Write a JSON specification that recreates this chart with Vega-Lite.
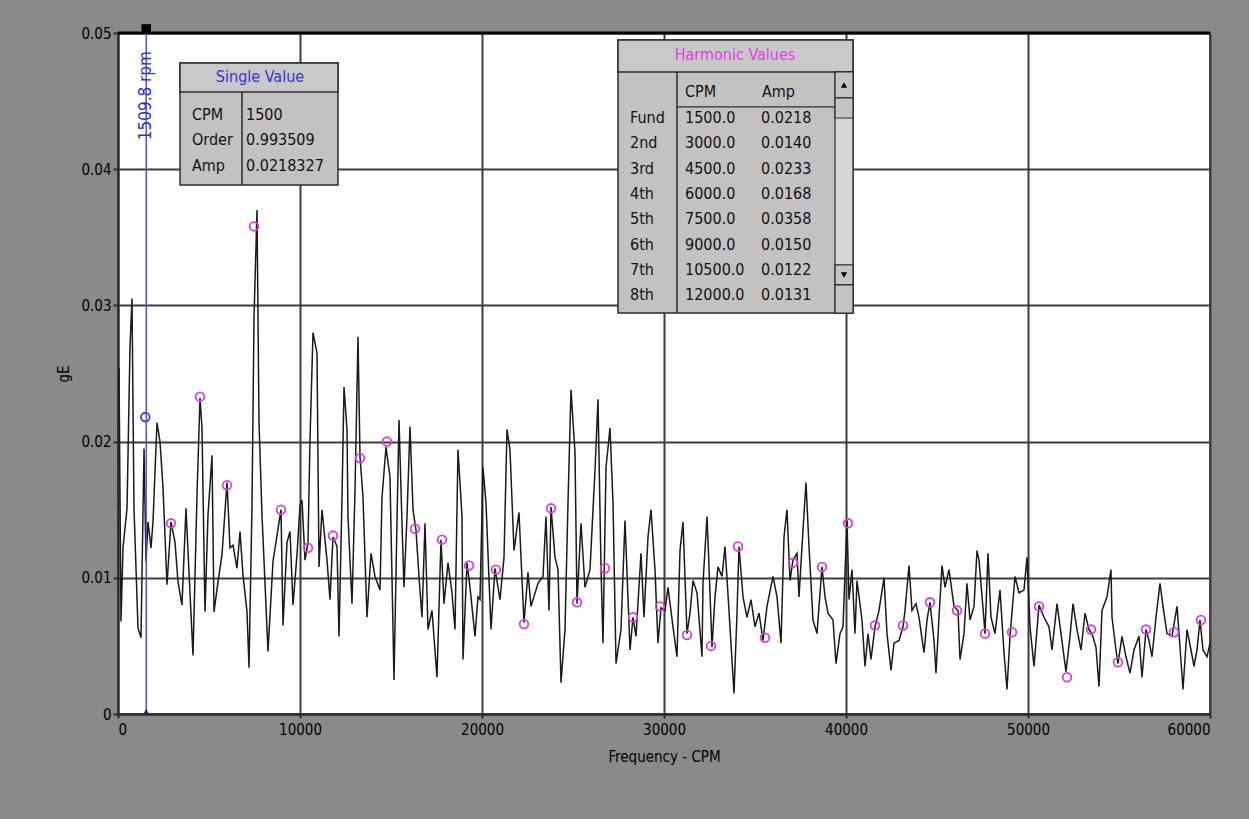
{
  "$schema": "https://vega.github.io/schema/vega-lite/v6.json",
  "width": 1092,
  "height": 681,
  "autosize": {"type": "none"},
  "padding": {"left": 118, "top": 33, "right": 39, "bottom": 105},
  "background": "#8a8a8a",
  "config": {
    "view": {"fill": "#ffffff", "stroke": "#4a4a4a", "strokeWidth": 2},
    "font": "Liberation Sans Narrow, DejaVu Sans Condensed, Roboto Condensed, sans-serif",
    "axis": {
      "labelFont": "Liberation Sans Narrow, DejaVu Sans Condensed, sans-serif",
      "titleFont": "Liberation Sans Narrow, DejaVu Sans Condensed, sans-serif",
      "labelColor": "#000000",
      "titleColor": "#000000",
      "titleFontWeight": "normal",
      "labelFontSize": 15,
      "titleFontSize": 15,
      "gridColor": "#3c3c3c",
      "gridWidth": 2,
      "gridOpacity": 1,
      "domainColor": "#2a2a2a",
      "domainWidth": 2,
      "tickColor": "#2a2a2a",
      "tickWidth": 2
    }
  },
  "datasets": {
    "spectrum": [
      {"cpm": 55, "amp": 0.0254}, {"cpm": 165, "amp": 0.0068}, {"cpm": 275, "amp": 0.0122}, {"cpm": 495, "amp": 0.0151},
      {"cpm": 659, "amp": 0.0269}, {"cpm": 769, "amp": 0.0305}, {"cpm": 879, "amp": 0.0151}, {"cpm": 1099, "amp": 0.0063},
      {"cpm": 1264, "amp": 0.0056}, {"cpm": 1429, "amp": 0.0195}, {"cpm": 1538, "amp": 0.0112}, {"cpm": 1648, "amp": 0.0141},
      {"cpm": 1813, "amp": 0.0122}, {"cpm": 1923, "amp": 0.0141}, {"cpm": 2143, "amp": 0.0214}, {"cpm": 2308, "amp": 0.0200},
      {"cpm": 2473, "amp": 0.0166}, {"cpm": 2692, "amp": 0.0095}, {"cpm": 2912, "amp": 0.0141}, {"cpm": 3132, "amp": 0.0126},
      {"cpm": 3297, "amp": 0.0097}, {"cpm": 3516, "amp": 0.0080}, {"cpm": 3736, "amp": 0.0151}, {"cpm": 3901, "amp": 0.0104},
      {"cpm": 4121, "amp": 0.0043}, {"cpm": 4341, "amp": 0.0161}, {"cpm": 4505, "amp": 0.0232}, {"cpm": 4615, "amp": 0.0210},
      {"cpm": 4780, "amp": 0.0075}, {"cpm": 4945, "amp": 0.0146}, {"cpm": 5165, "amp": 0.0190}, {"cpm": 5275, "amp": 0.0075},
      {"cpm": 5495, "amp": 0.0097}, {"cpm": 5714, "amp": 0.0117}, {"cpm": 5989, "amp": 0.0170}, {"cpm": 6154, "amp": 0.0122},
      {"cpm": 6319, "amp": 0.0124}, {"cpm": 6538, "amp": 0.0107}, {"cpm": 6703, "amp": 0.0134}, {"cpm": 6868, "amp": 0.0102},
      {"cpm": 7088, "amp": 0.0075}, {"cpm": 7198, "amp": 0.0034}, {"cpm": 7363, "amp": 0.0153}, {"cpm": 7473, "amp": 0.0291},
      {"cpm": 7637, "amp": 0.0370}, {"cpm": 7747, "amp": 0.0214}, {"cpm": 7912, "amp": 0.0146}, {"cpm": 8242, "amp": 0.0046},
      {"cpm": 8516, "amp": 0.0112}, {"cpm": 8736, "amp": 0.0131}, {"cpm": 8956, "amp": 0.0150}, {"cpm": 9066, "amp": 0.0065},
      {"cpm": 9286, "amp": 0.0126}, {"cpm": 9451, "amp": 0.0134}, {"cpm": 9615, "amp": 0.0080}, {"cpm": 9835, "amp": 0.0117},
      {"cpm": 10000, "amp": 0.0153}, {"cpm": 10110, "amp": 0.0157}, {"cpm": 10275, "amp": 0.0113}, {"cpm": 10440, "amp": 0.0126},
      {"cpm": 10549, "amp": 0.0201}, {"cpm": 10714, "amp": 0.0280}, {"cpm": 10934, "amp": 0.0265}, {"cpm": 11044, "amp": 0.0108},
      {"cpm": 11209, "amp": 0.0150}, {"cpm": 11484, "amp": 0.0113}, {"cpm": 11648, "amp": 0.0084}, {"cpm": 11813, "amp": 0.0130},
      {"cpm": 12033, "amp": 0.0123}, {"cpm": 12143, "amp": 0.0057}, {"cpm": 12308, "amp": 0.0159}, {"cpm": 12418, "amp": 0.0240},
      {"cpm": 12582, "amp": 0.0209}, {"cpm": 12637, "amp": 0.0145}, {"cpm": 12857, "amp": 0.0081}, {"cpm": 13022, "amp": 0.0164},
      {"cpm": 13187, "amp": 0.0277}, {"cpm": 13297, "amp": 0.0189}, {"cpm": 13462, "amp": 0.0159}, {"cpm": 13681, "amp": 0.0071},
      {"cpm": 13901, "amp": 0.0118}, {"cpm": 14121, "amp": 0.0101}, {"cpm": 14396, "amp": 0.0091}, {"cpm": 14505, "amp": 0.0159},
      {"cpm": 14725, "amp": 0.0196}, {"cpm": 14945, "amp": 0.0174}, {"cpm": 15165, "amp": 0.0025}, {"cpm": 15330, "amp": 0.0142},
      {"cpm": 15440, "amp": 0.0216}, {"cpm": 15604, "amp": 0.0140}, {"cpm": 15714, "amp": 0.0093}, {"cpm": 15879, "amp": 0.0145},
      {"cpm": 16044, "amp": 0.0211}, {"cpm": 16209, "amp": 0.0150}, {"cpm": 16374, "amp": 0.0135}, {"cpm": 16538, "amp": 0.0101},
      {"cpm": 16703, "amp": 0.0071}, {"cpm": 16868, "amp": 0.0140}, {"cpm": 17033, "amp": 0.0062}, {"cpm": 17253, "amp": 0.0076},
      {"cpm": 17527, "amp": 0.0027}, {"cpm": 17747, "amp": 0.0128}, {"cpm": 17912, "amp": 0.0081}, {"cpm": 18132, "amp": 0.0111},
      {"cpm": 18352, "amp": 0.0089}, {"cpm": 18516, "amp": 0.0062}, {"cpm": 18681, "amp": 0.0194}, {"cpm": 18901, "amp": 0.0145},
      {"cpm": 18956, "amp": 0.0040}, {"cpm": 19176, "amp": 0.0111}, {"cpm": 19341, "amp": 0.0093}, {"cpm": 19615, "amp": 0.0057},
      {"cpm": 19780, "amp": 0.0086}, {"cpm": 19890, "amp": 0.0084}, {"cpm": 20055, "amp": 0.0181}, {"cpm": 20220, "amp": 0.0155},
      {"cpm": 20494, "amp": 0.0062}, {"cpm": 20714, "amp": 0.0107}, {"cpm": 20989, "amp": 0.0084}, {"cpm": 21209, "amp": 0.0115},
      {"cpm": 21374, "amp": 0.0209}, {"cpm": 21538, "amp": 0.0194}, {"cpm": 21758, "amp": 0.0120}, {"cpm": 22033, "amp": 0.0148},
      {"cpm": 22143, "amp": 0.0115}, {"cpm": 22308, "amp": 0.0067}, {"cpm": 22527, "amp": 0.0104}, {"cpm": 22692, "amp": 0.0079},
      {"cpm": 23077, "amp": 0.0096}, {"cpm": 23352, "amp": 0.0101}, {"cpm": 23516, "amp": 0.0145}, {"cpm": 23681, "amp": 0.0076},
      {"cpm": 23791, "amp": 0.0152}, {"cpm": 24011, "amp": 0.0115}, {"cpm": 24176, "amp": 0.0106}, {"cpm": 24341, "amp": 0.0023},
      {"cpm": 24560, "amp": 0.0062}, {"cpm": 24725, "amp": 0.0155}, {"cpm": 24890, "amp": 0.0238}, {"cpm": 25110, "amp": 0.0192},
      {"cpm": 25220, "amp": 0.0081}, {"cpm": 25440, "amp": 0.0140}, {"cpm": 25659, "amp": 0.0093}, {"cpm": 25934, "amp": 0.0106},
      {"cpm": 26209, "amp": 0.0179}, {"cpm": 26374, "amp": 0.0231}, {"cpm": 26538, "amp": 0.0108}, {"cpm": 26648, "amp": 0.0052},
      {"cpm": 26813, "amp": 0.0181}, {"cpm": 27033, "amp": 0.0210}, {"cpm": 27198, "amp": 0.0155}, {"cpm": 27363, "amp": 0.0037},
      {"cpm": 27637, "amp": 0.0062}, {"cpm": 27857, "amp": 0.0142}, {"cpm": 28132, "amp": 0.0047}, {"cpm": 28297, "amp": 0.0071},
      {"cpm": 28462, "amp": 0.0057}, {"cpm": 28736, "amp": 0.0118}, {"cpm": 28901, "amp": 0.0071}, {"cpm": 29121, "amp": 0.0130},
      {"cpm": 29286, "amp": 0.0150}, {"cpm": 29505, "amp": 0.0106}, {"cpm": 29670, "amp": 0.0052}, {"cpm": 29835, "amp": 0.0078},
      {"cpm": 30055, "amp": 0.0076}, {"cpm": 30220, "amp": 0.0093}, {"cpm": 30495, "amp": 0.0064}, {"cpm": 30714, "amp": 0.0042},
      {"cpm": 30879, "amp": 0.0120}, {"cpm": 31044, "amp": 0.0141}, {"cpm": 31264, "amp": 0.0059}, {"cpm": 31429, "amp": 0.0074},
      {"cpm": 31593, "amp": 0.0098}, {"cpm": 31813, "amp": 0.0089}, {"cpm": 32088, "amp": 0.0042}, {"cpm": 32143, "amp": 0.0096},
      {"cpm": 32363, "amp": 0.0145}, {"cpm": 32473, "amp": 0.0108}, {"cpm": 32637, "amp": 0.0049}, {"cpm": 32802, "amp": 0.0086},
      {"cpm": 32967, "amp": 0.0108}, {"cpm": 33187, "amp": 0.0101}, {"cpm": 33352, "amp": 0.0123}, {"cpm": 33626, "amp": 0.0064},
      {"cpm": 33846, "amp": 0.0015}, {"cpm": 34011, "amp": 0.0074}, {"cpm": 34121, "amp": 0.0123}, {"cpm": 34341, "amp": 0.0086},
      {"cpm": 34560, "amp": 0.0071}, {"cpm": 34780, "amp": 0.0084}, {"cpm": 35000, "amp": 0.0064}, {"cpm": 35220, "amp": 0.0074},
      {"cpm": 35440, "amp": 0.0054}, {"cpm": 35659, "amp": 0.0079}, {"cpm": 35989, "amp": 0.0101}, {"cpm": 36209, "amp": 0.0086},
      {"cpm": 36429, "amp": 0.0052}, {"cpm": 36593, "amp": 0.0130}, {"cpm": 36758, "amp": 0.0150}, {"cpm": 36923, "amp": 0.0098},
      {"cpm": 37088, "amp": 0.0113}, {"cpm": 37308, "amp": 0.0118}, {"cpm": 37418, "amp": 0.0086}, {"cpm": 37637, "amp": 0.0135},
      {"cpm": 37802, "amp": 0.0170}, {"cpm": 37967, "amp": 0.0123}, {"cpm": 38187, "amp": 0.0069}, {"cpm": 38407, "amp": 0.0059},
      {"cpm": 38681, "amp": 0.0108}, {"cpm": 38846, "amp": 0.0086}, {"cpm": 39011, "amp": 0.0074}, {"cpm": 39286, "amp": 0.0069},
      {"cpm": 39451, "amp": 0.0037}, {"cpm": 39670, "amp": 0.0059}, {"cpm": 39835, "amp": 0.0064}, {"cpm": 40055, "amp": 0.0142},
      {"cpm": 40165, "amp": 0.0084}, {"cpm": 40330, "amp": 0.0106}, {"cpm": 40494, "amp": 0.0059}, {"cpm": 40604, "amp": 0.0098},
      {"cpm": 40879, "amp": 0.0069}, {"cpm": 41044, "amp": 0.0035}, {"cpm": 41209, "amp": 0.0059}, {"cpm": 41374, "amp": 0.0040},
      {"cpm": 41593, "amp": 0.0064}, {"cpm": 41813, "amp": 0.0076}, {"cpm": 42088, "amp": 0.0100}, {"cpm": 42253, "amp": 0.0059},
      {"cpm": 42473, "amp": 0.0032}, {"cpm": 42637, "amp": 0.0052}, {"cpm": 42912, "amp": 0.0054}, {"cpm": 43132, "amp": 0.0064},
      {"cpm": 43242, "amp": 0.0076}, {"cpm": 43462, "amp": 0.0109}, {"cpm": 43626, "amp": 0.0076}, {"cpm": 43846, "amp": 0.0081},
      {"cpm": 44011, "amp": 0.0071}, {"cpm": 44286, "amp": 0.0045}, {"cpm": 44451, "amp": 0.0069}, {"cpm": 44615, "amp": 0.0082},
      {"cpm": 44835, "amp": 0.0054}, {"cpm": 44945, "amp": 0.0030}, {"cpm": 45110, "amp": 0.0071}, {"cpm": 45275, "amp": 0.0109},
      {"cpm": 45440, "amp": 0.0093}, {"cpm": 45659, "amp": 0.0106}, {"cpm": 45934, "amp": 0.0079}, {"cpm": 46154, "amp": 0.0076},
      {"cpm": 46264, "amp": 0.0040}, {"cpm": 46484, "amp": 0.0059}, {"cpm": 46648, "amp": 0.0096}, {"cpm": 46813, "amp": 0.0069},
      {"cpm": 47033, "amp": 0.0079}, {"cpm": 47198, "amp": 0.0120}, {"cpm": 47308, "amp": 0.0113}, {"cpm": 47582, "amp": 0.0069},
      {"cpm": 47637, "amp": 0.0059}, {"cpm": 47802, "amp": 0.0118}, {"cpm": 47967, "amp": 0.0071}, {"cpm": 48187, "amp": 0.0059},
      {"cpm": 48462, "amp": 0.0091}, {"cpm": 48681, "amp": 0.0045}, {"cpm": 48846, "amp": 0.0018}, {"cpm": 49011, "amp": 0.0057},
      {"cpm": 49286, "amp": 0.0101}, {"cpm": 49505, "amp": 0.0089}, {"cpm": 49780, "amp": 0.0091}, {"cpm": 49945, "amp": 0.0115},
      {"cpm": 50110, "amp": 0.0064}, {"cpm": 50330, "amp": 0.0035}, {"cpm": 50604, "amp": 0.0080}, {"cpm": 50879, "amp": 0.0071},
      {"cpm": 51154, "amp": 0.0064}, {"cpm": 51319, "amp": 0.0047}, {"cpm": 51593, "amp": 0.0081}, {"cpm": 51813, "amp": 0.0059},
      {"cpm": 52088, "amp": 0.0031}, {"cpm": 52308, "amp": 0.0057}, {"cpm": 52473, "amp": 0.0081}, {"cpm": 52692, "amp": 0.0062},
      {"cpm": 52912, "amp": 0.0047}, {"cpm": 53132, "amp": 0.0074}, {"cpm": 53352, "amp": 0.0062}, {"cpm": 53516, "amp": 0.0059},
      {"cpm": 53736, "amp": 0.0049}, {"cpm": 53901, "amp": 0.0020}, {"cpm": 54066, "amp": 0.0076}, {"cpm": 54341, "amp": 0.0086},
      {"cpm": 54560, "amp": 0.0106}, {"cpm": 54615, "amp": 0.0071}, {"cpm": 54835, "amp": 0.0047}, {"cpm": 54945, "amp": 0.0037},
      {"cpm": 55165, "amp": 0.0057}, {"cpm": 55384, "amp": 0.0042}, {"cpm": 55604, "amp": 0.0030}, {"cpm": 55824, "amp": 0.0047},
      {"cpm": 56099, "amp": 0.0057}, {"cpm": 56264, "amp": 0.0027}, {"cpm": 56484, "amp": 0.0062}, {"cpm": 56648, "amp": 0.0054},
      {"cpm": 56813, "amp": 0.0042}, {"cpm": 57033, "amp": 0.0071}, {"cpm": 57253, "amp": 0.0096}, {"cpm": 57418, "amp": 0.0079},
      {"cpm": 57637, "amp": 0.0059}, {"cpm": 57912, "amp": 0.0057}, {"cpm": 58187, "amp": 0.0079}, {"cpm": 58352, "amp": 0.0049},
      {"cpm": 58516, "amp": 0.0018}, {"cpm": 58736, "amp": 0.0062}, {"cpm": 58956, "amp": 0.0047}, {"cpm": 59121, "amp": 0.0035},
      {"cpm": 59286, "amp": 0.0047}, {"cpm": 59451, "amp": 0.0069}, {"cpm": 59615, "amp": 0.0047}, {"cpm": 59835, "amp": 0.0042},
      {"cpm": 60000, "amp": 0.0052}
    ],
    "harmonics": [
      {"n": 1, "label": "Fund", "cpm": 1500, "freq": 1500, "amp": 0.0218},
      {"n": 2, "label": "2nd", "cpm": 3000, "freq": 2912, "amp": 0.0140},
      {"n": 3, "label": "3rd", "cpm": 4500, "freq": 4505, "amp": 0.0233},
      {"n": 4, "label": "4th", "cpm": 6000, "freq": 5989, "amp": 0.0168},
      {"n": 5, "label": "5th", "cpm": 7500, "freq": 7473, "amp": 0.0358},
      {"n": 6, "label": "6th", "cpm": 9000, "freq": 8956, "amp": 0.0150},
      {"n": 7, "label": "7th", "cpm": 10500, "freq": 10440, "amp": 0.0122},
      {"n": 8, "label": "8th", "cpm": 12000, "freq": 11813, "amp": 0.0131},
      {"n": 9, "label": "9th", "cpm": 13500, "freq": 13297, "amp": 0.0188},
      {"n": 10, "label": "10th", "cpm": 15000, "freq": 14780, "amp": 0.0200},
      {"n": 11, "label": "11th", "cpm": 16500, "freq": 16319, "amp": 0.0136},
      {"n": 12, "label": "12th", "cpm": 18000, "freq": 17802, "amp": 0.0128},
      {"n": 13, "label": "13th", "cpm": 19500, "freq": 19286, "amp": 0.0109},
      {"n": 14, "label": "14th", "cpm": 21000, "freq": 20769, "amp": 0.0106},
      {"n": 15, "label": "15th", "cpm": 22500, "freq": 22308, "amp": 0.0066},
      {"n": 16, "label": "16th", "cpm": 24000, "freq": 23791, "amp": 0.0151},
      {"n": 17, "label": "17th", "cpm": 25500, "freq": 25220, "amp": 0.0082},
      {"n": 18, "label": "18th", "cpm": 27000, "freq": 26758, "amp": 0.0107},
      {"n": 19, "label": "19th", "cpm": 28500, "freq": 28297, "amp": 0.0071},
      {"n": 20, "label": "20th", "cpm": 30000, "freq": 29780, "amp": 0.0079},
      {"n": 21, "label": "21st", "cpm": 31500, "freq": 31264, "amp": 0.0058},
      {"n": 22, "label": "22nd", "cpm": 33000, "freq": 32582, "amp": 0.0050},
      {"n": 23, "label": "23rd", "cpm": 34500, "freq": 34066, "amp": 0.0123},
      {"n": 24, "label": "24th", "cpm": 36000, "freq": 35549, "amp": 0.0056},
      {"n": 25, "label": "25th", "cpm": 37500, "freq": 37088, "amp": 0.0111},
      {"n": 26, "label": "26th", "cpm": 39000, "freq": 38681, "amp": 0.0108},
      {"n": 27, "label": "27th", "cpm": 40500, "freq": 40110, "amp": 0.0140},
      {"n": 28, "label": "28th", "cpm": 42000, "freq": 41593, "amp": 0.0065},
      {"n": 29, "label": "29th", "cpm": 43500, "freq": 43132, "amp": 0.0065},
      {"n": 30, "label": "30th", "cpm": 45000, "freq": 44615, "amp": 0.0082},
      {"n": 31, "label": "31st", "cpm": 46500, "freq": 46099, "amp": 0.0076},
      {"n": 32, "label": "32nd", "cpm": 48000, "freq": 47637, "amp": 0.0059},
      {"n": 33, "label": "33rd", "cpm": 49500, "freq": 49121, "amp": 0.0060},
      {"n": 34, "label": "34th", "cpm": 51000, "freq": 50604, "amp": 0.0079},
      {"n": 35, "label": "35th", "cpm": 52500, "freq": 52143, "amp": 0.0027},
      {"n": 36, "label": "36th", "cpm": 54000, "freq": 53461, "amp": 0.0062},
      {"n": 37, "label": "37th", "cpm": 55500, "freq": 54945, "amp": 0.0038},
      {"n": 38, "label": "38th", "cpm": 57000, "freq": 56484, "amp": 0.0062},
      {"n": 39, "label": "39th", "cpm": 58500, "freq": 58022, "amp": 0.0060},
      {"n": 40, "label": "40th", "cpm": 60000, "freq": 59505, "amp": 0.0069}
    ],
    "single": [
      {"n": 1, "key": "CPM", "value": "1500"},
      {"n": 2, "key": "Order", "value": "0.993509"},
      {"n": 3, "key": "Amp", "value": "0.0218327"}
    ]
  },
  "resolve": {"scale": {"y": "independent"}},
  "layer": [
    {
      "layer": [
        {
          "data": {"name": "spectrum"},
          "mark": {"type": "line", "stroke": "#1a1a1a", "strokeWidth": 1.5},
          "encoding": {
            "x": {
              "field": "cpm", "type": "quantitative",
              "scale": {"domain": [0, 60000], "nice": false, "zero": false},
              "axis": {"title": "Frequency - CPM", "values": [0, 10000, 20000, 30000, 40000, 50000, 60000], "format": "d", "tickSize": 4, "labelPadding": 4, "titlePadding": 12, "grid": true}
            },
            "y": {
              "field": "amp", "type": "quantitative",
              "scale": {"domain": [0, 0.05], "nice": false},
              "axis": {"title": "gE", "values": [0, 0.01, 0.02, 0.03, 0.04, 0.05], "labelExpr": "datum.value === 0 ? '0' : format(datum.value, '.2f')", "tickSize": 5, "labelPadding": 2, "titlePadding": 9, "grid": true}
            }
          }
        },
        {
          "data": {"values": [{}]},
          "mark": {"type": "rule", "color": "#000000", "strokeWidth": 3},
          "encoding": {"y": {"datum": 0.05, "type": "quantitative"}}
        },
        {
          "data": {"name": "harmonics"},
          "mark": {"type": "point", "shape": "circle", "filled": false, "size": 75, "strokeWidth": 1.8, "opacity": 1},
          "encoding": {
            "x": {"field": "freq", "type": "quantitative"},
            "y": {"field": "amp", "type": "quantitative"},
            "color": {"condition": {"test": "datum.n === 1", "value": "#3a3ad4"}, "value": "#d63fdc"}
          }
        },
        {
          "data": {"values": [{}]},
          "mark": {"type": "rule", "color": "#4646dc", "strokeWidth": 1.4},
          "encoding": {"x": {"datum": 1550, "type": "quantitative"}}
        },
        {
          "data": {"values": [{}]},
          "mark": {"type": "text", "text": "1509.8 rpm", "angle": 270, "color": "#3030c8", "fontSize": 17, "align": "center", "baseline": "middle"},
          "encoding": {"x": {"datum": 1550, "type": "quantitative"}, "y": {"datum": 0.0454, "type": "quantitative"}}
        },
        {
          "data": {"values": [{}]},
          "mark": {"type": "point", "shape": "square", "filled": true, "color": "#000000", "size": 90, "opacity": 1},
          "encoding": {"x": {"datum": 1550, "type": "quantitative"}, "y": {"datum": 0.0503, "type": "quantitative"}}
        },
        {
          "data": {"values": [{}]},
          "mark": {"type": "point", "shape": "triangle-up", "filled": true, "color": "#202060", "size": 30, "opacity": 1},
          "encoding": {"x": {"datum": 1550, "type": "quantitative"}, "y": {"datum": 0.0002, "type": "quantitative"}}
        },
        {
          "data": {"values": [{}]},
          "mark": {"type": "rect", "fill": "#c2c2c2", "stroke": "#2c2c2c", "strokeWidth": 1.5},
          "encoding": {
            "x": {"datum": 3407, "type": "quantitative"}, "x2": {"datum": 12088},
            "y": {"datum": 0.0478, "type": "quantitative"}, "y2": {"datum": 0.03884}
          }
        },
        {
          "data": {"values": [{}]},
          "mark": {"type": "rect", "fill": "#c8c8c8", "stroke": "#2c2c2c", "strokeWidth": 1.5},
          "encoding": {
            "x": {"datum": 3407, "type": "quantitative"}, "x2": {"datum": 12088},
            "y": {"datum": 0.0478, "type": "quantitative"}, "y2": {"datum": 0.04567}
          }
        },
        {
          "data": {"values": [{}]},
          "mark": {"type": "rule", "color": "#2c2c2c", "strokeWidth": 1.5},
          "encoding": {
            "x": {"datum": 6813, "type": "quantitative"},
            "y": {"datum": 0.04567, "type": "quantitative"}, "y2": {"datum": 0.03884}
          }
        },
        {
          "data": {"values": [{}]},
          "mark": {"type": "text", "text": "Single Value", "color": "#3535d0", "fontSize": 16, "align": "center", "baseline": "middle"},
          "encoding": {"x": {"datum": 7802, "type": "quantitative"}, "y": {"datum": 0.04677, "type": "quantitative"}}
        },
        {
          "data": {"values": [{}]},
          "mark": {"type": "rect", "fill": "#c2c2c2", "stroke": "#2c2c2c", "strokeWidth": 1.5},
          "encoding": {
            "x": {"datum": 27473, "type": "quantitative"}, "x2": {"datum": 40385},
            "y": {"datum": 0.04949, "type": "quantitative"}, "y2": {"datum": 0.02944}
          }
        },
        {
          "data": {"values": [{}]},
          "mark": {"type": "rect", "fill": "#c8c8c8", "stroke": "#2c2c2c", "strokeWidth": 1.5},
          "encoding": {
            "x": {"datum": 27473, "type": "quantitative"}, "x2": {"datum": 40385},
            "y": {"datum": 0.04949, "type": "quantitative"}, "y2": {"datum": 0.04714}
          }
        },
        {
          "data": {"values": [{}]},
          "mark": {"type": "rule", "color": "#2c2c2c", "strokeWidth": 1.5},
          "encoding": {
            "x": {"datum": 30714, "type": "quantitative"},
            "y": {"datum": 0.04714, "type": "quantitative"}, "y2": {"datum": 0.02944}
          }
        },
        {
          "data": {"values": [{}]},
          "mark": {"type": "rule", "color": "#2c2c2c", "strokeWidth": 1.2},
          "encoding": {
            "x": {"datum": 30714, "type": "quantitative"}, "x2": {"datum": 39396},
            "y": {"datum": 0.04457, "type": "quantitative"}
          }
        },
        {
          "data": {"values": [{}]},
          "mark": {"type": "rect", "fill": "#d6d6d6", "stroke": "#2c2c2c", "strokeWidth": 1.2},
          "encoding": {
            "x": {"datum": 39396, "type": "quantitative"}, "x2": {"datum": 40385},
            "y": {"datum": 0.04714, "type": "quantitative"}, "y2": {"datum": 0.02944}
          }
        },
        {
          "data": {"values": [{}]},
          "mark": {"type": "rect", "fill": "#c4c4c4", "stroke": "#2c2c2c", "strokeWidth": 1.2},
          "encoding": {
            "x": {"datum": 39396, "type": "quantitative"}, "x2": {"datum": 40385},
            "y": {"datum": 0.04714, "type": "quantitative"}, "y2": {"datum": 0.04523}
          }
        },
        {
          "data": {"values": [{}]},
          "mark": {"type": "rect", "fill": "#c4c4c4", "stroke": "#2c2c2c", "strokeWidth": 1.2},
          "encoding": {
            "x": {"datum": 39396, "type": "quantitative"}, "x2": {"datum": 40385},
            "y": {"datum": 0.04523, "type": "quantitative"}, "y2": {"datum": 0.04376}
          }
        },
        {
          "data": {"values": [{}]},
          "mark": {"type": "rect", "fill": "#c4c4c4", "stroke": "#2c2c2c", "strokeWidth": 1.2},
          "encoding": {
            "x": {"datum": 39396, "type": "quantitative"}, "x2": {"datum": 40385},
            "y": {"datum": 0.03297, "type": "quantitative"}, "y2": {"datum": 0.0315}
          }
        },
        {
          "data": {"values": [{}]},
          "mark": {"type": "rect", "fill": "#c4c4c4", "stroke": "#2c2c2c", "strokeWidth": 1.2},
          "encoding": {
            "x": {"datum": 39396, "type": "quantitative"}, "x2": {"datum": 40385},
            "y": {"datum": 0.0315, "type": "quantitative"}, "y2": {"datum": 0.02944}
          }
        },
        {
          "data": {"values": [{}]},
          "mark": {"type": "point", "shape": "triangle-up", "filled": true, "color": "#000000", "size": 40, "opacity": 1},
          "encoding": {"x": {"datum": 39890, "type": "quantitative"}, "y": {"datum": 0.04618, "type": "quantitative"}}
        },
        {
          "data": {"values": [{}]},
          "mark": {"type": "point", "shape": "triangle-down", "filled": true, "color": "#000000", "size": 40, "opacity": 1},
          "encoding": {"x": {"datum": 39890, "type": "quantitative"}, "y": {"datum": 0.03223, "type": "quantitative"}}
        },
        {
          "data": {"values": [{}]},
          "mark": {"type": "text", "text": "Harmonic Values", "color": "#e03ce0", "fontSize": 16, "align": "center", "baseline": "middle"},
          "encoding": {"x": {"datum": 33901, "type": "quantitative"}, "y": {"datum": 0.04838, "type": "quantitative"}}
        },
        {
          "data": {"values": [{}]},
          "mark": {"type": "text", "text": "CPM", "color": "#111111", "fontSize": 16, "align": "left", "baseline": "middle"},
          "encoding": {"x": {"datum": 31154, "type": "quantitative"}, "y": {"datum": 0.04567, "type": "quantitative"}}
        },
        {
          "data": {"values": [{}]},
          "mark": {"type": "text", "text": "Amp", "color": "#111111", "fontSize": 16, "align": "left", "baseline": "middle"},
          "encoding": {"x": {"datum": 35385, "type": "quantitative"}, "y": {"datum": 0.04567, "type": "quantitative"}}
        }
      ]
    },
    {
      "layer": [
        {
          "data": {"name": "harmonics"},
          "transform": [{"filter": "datum.n <= 8"}],
          "mark": {"type": "text", "color": "#111111", "fontSize": 16, "align": "left", "baseline": "middle"},
          "encoding": {
            "x": {"datum": 28132, "type": "quantitative"},
            "y": {"field": "n", "type": "quantitative", "scale": {"domain": [-2.36, 24.557], "reverse": true, "nice": false, "zero": false}, "axis": null},
            "text": {"field": "label"}
          }
        },
        {
          "data": {"name": "harmonics"},
          "transform": [{"filter": "datum.n <= 8"}],
          "mark": {"type": "text", "color": "#111111", "fontSize": 16, "align": "left", "baseline": "middle"},
          "encoding": {
            "x": {"datum": 31154, "type": "quantitative"},
            "y": {"field": "n", "type": "quantitative"},
            "text": {"field": "cpm", "type": "quantitative", "format": ".1f"}
          }
        },
        {
          "data": {"name": "harmonics"},
          "transform": [{"filter": "datum.n <= 8"}],
          "mark": {"type": "text", "color": "#111111", "fontSize": 16, "align": "left", "baseline": "middle"},
          "encoding": {
            "x": {"datum": 35330, "type": "quantitative"},
            "y": {"field": "n", "type": "quantitative"},
            "text": {"field": "amp", "type": "quantitative", "format": ".4f"}
          }
        },
        {
          "data": {"name": "single"},
          "mark": {"type": "text", "color": "#111111", "fontSize": 16, "align": "left", "baseline": "middle", "dy": -3},
          "encoding": {
            "x": {"datum": 4066, "type": "quantitative"},
            "y": {"field": "n", "type": "quantitative"},
            "text": {"field": "key"}
          }
        },
        {
          "data": {"name": "single"},
          "mark": {"type": "text", "color": "#111111", "fontSize": 16, "align": "left", "baseline": "middle", "dy": -3},
          "encoding": {
            "x": {"datum": 7033, "type": "quantitative"},
            "y": {"field": "n", "type": "quantitative"},
            "text": {"field": "value"}
          }
        }
      ]
    }
  ]
}
